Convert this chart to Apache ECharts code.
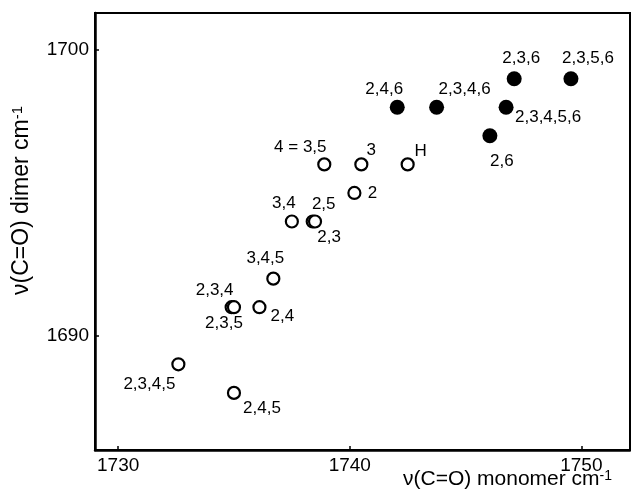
<!DOCTYPE html>
<html>
<head>
<meta charset="utf-8">
<script src="https://cdn.jsdelivr.net/npm/echarts@6/dist/echarts.min.js"></script>
<style>
  html, body { margin: 0; padding: 0; background: #fff; }
  #chart { width: 631px; height: 495px; }
</style>
</head>
<body>
<div id="chart"></div>
<script>
  // 取代基位置 (open circles)
  const openLabels = ['4 = 3,5', '3', 'H', '2', '3,4', '2,5', '2,3', '3,4,5', '2,3,4', '2,3,5', '2,4', '2,3,4,5', '2,4,5'];
  const openMonomer = [1738.9, 1740.5, 1742.5, 1740.2, 1737.5, 1738.4, 1738.5, 1736.7, 1734.9, 1735.0, 1736.1, 1732.6, 1735.0];
  const openDimer = [1696, 1696, 1696, 1695, 1694, 1694, 1694, 1692, 1691, 1691, 1691, 1689, 1688];

  // 2,6-取代 (filled circles)
  const filledLabels = ['2,4,6', '2,3,4,6', '2,3,6', '2,3,5,6', '2,3,4,5,6', '2,6'];
  const filledMonomer = [1742.05, 1743.75, 1747.1, 1749.55, 1746.75, 1746.05];
  const filledDimer = [1698, 1698, 1699, 1699, 1698, 1697];

  const xTicks = [1730, 1740, 1750];
  const yTicks = [1690, 1700];

  // label offsets from the point centre, px
  const openOffsets = [[-24, -17], [10, -14], [13, -13], [18, 0], [-8, -18], [11, -17], [14, 16],
    [-8, -20], [-17, -17], [-10, 16], [23, 9], [-29, 20], [28, 15]];
  const filledOffsets = [[-13, -18], [28, -18], [7, -20], [17, -20], [42, 10], [12, 25]];

  const font = 'Liberation Sans, Arial, Helvetica, sans-serif';

  function buildData(xs, ys, names, offsets) {
    return xs.map(function (x, i) {
      return {
        value: [x, ys[i]],
        name: names[i],
        label: { offset: offsets[i] }
      };
    });
  }

  function plain(v) {
    return String(v);
  }

  let myChart = echarts.init(document.getElementById('chart'));
  myChart.setOption({
    animation: false,
    grid: {
      left: 95,
      right: 1,
      top: 13,
      bottom: 45,
      outerBoundsMode: 'none',
      show: true,
      borderColor: '#000',
      borderWidth: 2
    },
    xAxis: {
      type: 'value',
      min: 1729,
      max: 1752.1,
      name: '{t|ν(C=O) monomer cm}{s|-1}',
      nameLocation: 'middle',
      nameGap: 19,
      nameMoveOverlap: false,
      nameTextStyle: {
        padding: [0, 0, 0, 290],
        rich: {
          t: { fontSize: 21, fontFamily: font, color: '#000' },
          s: { fontSize: 14, fontFamily: font, color: '#000', verticalAlign: 'top', padding: [0, 0, 7, 0] }
        }
      },
      splitLine: { show: false },
      axisLine: { lineStyle: { color: '#000', width: 2.5 } },
      axisTick: { inside: true, length: 4, customValues: xTicks, lineStyle: { color: '#000', width: 1.5 } },
      axisLabel: { customValues: xTicks, formatter: plain, margin: 6, fontSize: 19, fontFamily: font, color: '#000' }
    },
    yAxis: {
      type: 'value',
      min: 1686,
      max: 1701.3,
      name: '{t|ν(C=O) dimer cm}{s|-1}',
      nameLocation: 'middle',
      nameRotate: 90,
      nameGap: 62,
      nameMoveOverlap: false,
      nameTextStyle: {
        padding: [0, 0, 0, 62],
        rich: {
          t: { fontSize: 23, fontFamily: font, color: '#000' },
          s: { fontSize: 15, fontFamily: font, color: '#000', verticalAlign: 'top', padding: [0, 0, 8, 0] }
        }
      },
      splitLine: { show: false },
      axisLine: { lineStyle: { color: '#000', width: 2.5 } },
      axisTick: { inside: true, length: 4, customValues: yTicks, lineStyle: { color: '#000', width: 1.5 } },
      axisLabel: { customValues: yTicks, formatter: plain, margin: 6, fontSize: 19, fontFamily: font, color: '#000' }
    },
    series: [{
        name: 'open',
        type: 'scatter',
        symbol: 'circle',
        symbolSize: 12,
        itemStyle: { color: '#fff', borderColor: '#000', borderWidth: 2.2, opacity: 1 },
        label: {
          show: true,
          position: 'inside',
          formatter: '{b}',
          fontSize: 17,
          fontFamily: font,
          color: '#000'
        },
        data: buildData(openMonomer, openDimer, openLabels, openOffsets)
      },
      {
        name: 'filled',
        type: 'scatter',
        symbol: 'circle',
        symbolSize: 15,
        itemStyle: { color: '#000', opacity: 1 },
        label: {
          show: true,
          position: 'inside',
          formatter: '{b}',
          fontSize: 17,
          fontFamily: font,
          color: '#000'
        },
        data: buildData(filledMonomer, filledDimer, filledLabels, filledOffsets)
      }
    ]
  });
</script>
</body>
</html>
